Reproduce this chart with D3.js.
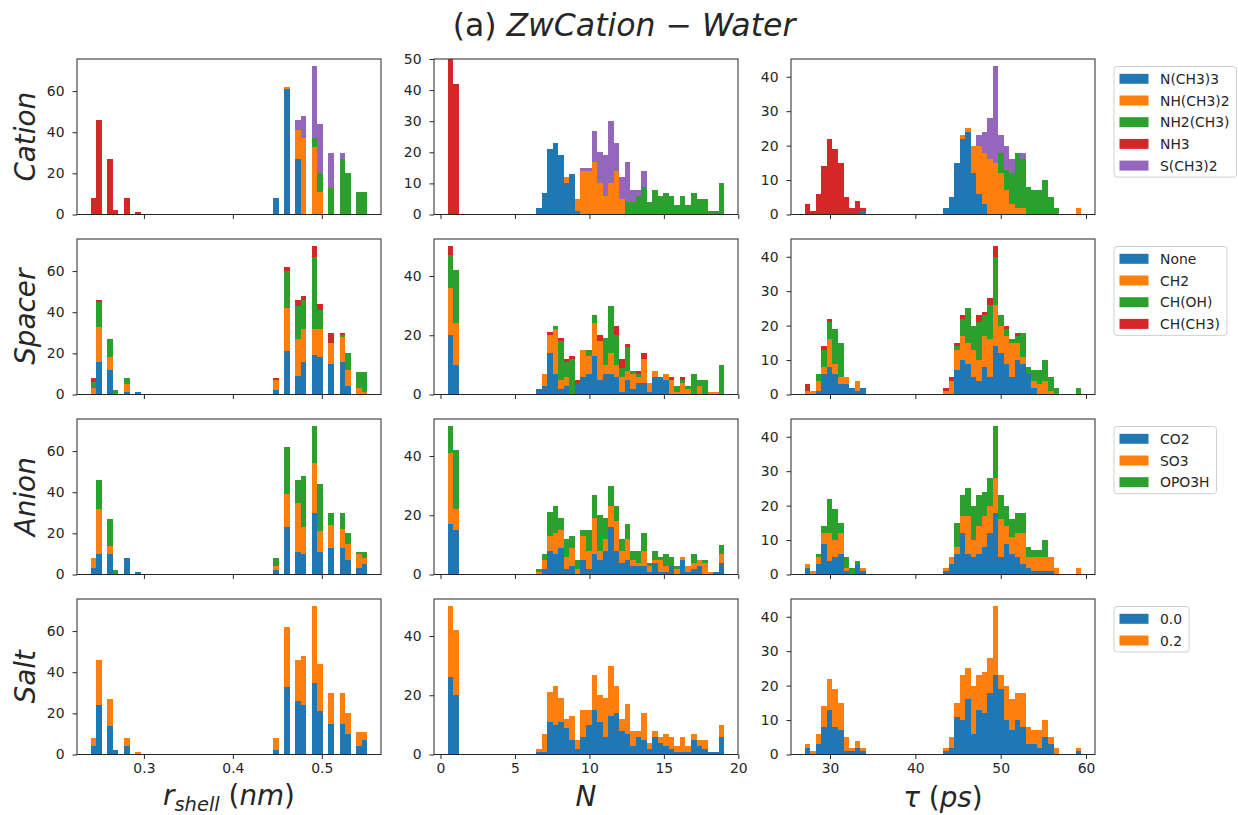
<!DOCTYPE html>
<html lang="en">
<head>
<meta charset="utf-8">
<script src="https://d3js.org/d3.v7.min.js"></script>
<style>
  body { margin: 0; background: #fff; }
  text { font-family: "DejaVu Sans", sans-serif; }
</style>
</head>
<body>
<script>
    var width = 1238;
    var height = 815;
    var colors = ["#1f77b4", "#ff7f0e", "#2ca02c", "#d62728", "#9467bd"];

    // rows of the grid and the groups in each legend
    var rowNames = ["Cation", "Spacer", "Anion", "Salt"];
    var cationGroups = ["N(CH3)3", "NH(CH3)2", "NH2(CH3)", "NH3", "S(CH3)2"];
    var spacerGroups = ["None", "CH2", "CH(OH)", "CH(CH3)"];
    var anionGroups = ["CO2", "SO3", "OPO3H"];
    var saltGroups = ["0.0", "0.2"];

    // data range of each histogram column, 50 bins each
    var binCount = 50;
    var rRange = [0.2403, 0.551];
    var nRange = [0.49, 19.05];
    var tauRange = [27.05, 59.43];

    // indices of the bins that hold any counts
    var rBins = [0,1,3,4,6,8,33,35,37,38,40,41,43,45,46,48,49];
    var nBins = [0,1,16,17,18,19,20,21,22,23,24,25,26,27,28,29,30,31,32,33,34,35,36,37,38,39,40,41,42,43,44,45,46,47,48,49];
    var tauBins = [0,1,2,3,4,5,6,7,8,9,10,25,26,27,28,29,30,31,32,33,34,35,36,37,38,39,40,41,42,43,44,45,49];

    // counts per group (legend order), one value per listed bin
    var cationR = [
        [0,0,0,0,0,0, 8,61,27,0,0,0,0,0,0,0,0],
        [0,0,0,0,0,0, 0,1,14,37,33,11,0,0,0,0,0],
        [0,0,0,0,0,0, 0,0,0,0,4,9,13,27,20,11,11],
        [8,46,27,2,8,1, 0,0,0,0,0,0,0,0,0,0,0],
        [0,0,0,0,0,0, 0,0,5,11,35,24,17,3,0,0,0]
    ];
    var spacerR = [
        [0,16,12,0,1,1, 2,21,9,16,19,18,15,16,4,0,0],
        [3,17,6,0,4,0, 5,21,18,16,13,14,10,12,8,3,1],
        [3,12,9,2,3,0, 0,18,16,14,35,9,0,1,8,8,10],
        [2,1,0,0,0,0, 1,2,3,2,5,3,5,1,0,0,0]
    ];
    var anionR = [
        [3,10,10,0,8,1, 2,23,11,10,30,11,13,13,7,3,5],
        [5,22,4,0,0,0, 2,16,24,13,24,10,11,9,8,7,3],
        [0,14,13,2,0,0, 4,23,11,25,18,23,6,8,5,1,3]
    ];
    var saltR = [
        [4,24,14,2,4,0, 2,33,26,24,35,21,15,15,10,4,7],
        [4,22,13,0,4,1, 6,29,20,24,37,23,15,15,10,7,4]
    ];

    var cationN = [
        [0,0, 2,7,21,23,19,10,13,1, 0,0,0,0,0,0,0,0, 0,0,0,0,0,0,0,0, 0,0,0,0,0,0,0,0,0,0],
        [0,0, 0,0,0,0,0,2,0,4, 14,14,17,10,6,10,14,5, 0,0,0,0,0,0,0,0, 0,0,0,0,0,0,0,0,0,0],
        [0,0, 0,0,0,0,0,0,0,0, 0,0,0,0,0,0,0,0, 4,4,6,9,4,8,6,7, 6,3,6,3,7,5,5,1,1,10],
        [50,42, 0,0,0,0,0,0,0,0, 0,0,0,0,0,0,0,0, 0,0,0,0,0,0,0,0, 0,0,0,0,0,0,0,0,0,0],
        [0,0, 0,0,0,0,0,0,0,0, 1,1,10,10,13,20,9,7, 13,4,2,5,0,0,0,0, 0,0,0,0,0,0,0,0,0,0]
    ];
    var spacerN = [
        [20,10, 2,3,14,7,2,3,0,4, 6,7,13,5,7,7,6,1, 5,2,4,4,1,6,6,5, 0,0,0,0,0,0,0,0,0,0],
        [16,14, 0,4,6,15,3,3,0,0, 9,6,11,13,3,7,4,5, 3,5,2,8,3,2,0,2, 5,1,4,2,0,3,0,1,1,0],
        [11,18, 0,0,0,1,13,5,12,0, 0,2,3,0,9,16,10,3, 8,1,1,0,0,0,0,0, 0,2,1,1,7,2,5,0,0,10],
        [3,0, 0,0,1,0,1,1,1,1, 0,0,0,2,0,0,3,3, 1,0,1,2,0,0,0,0, 1,0,1,0,0,0,0,0,0,0]
    ];
    var anionN = [
        [17,15, 0,2,8,7,9,2,3,0, 5,2,7,5,8,16,8,4, 5,3,3,3,1,4,1,1, 3,0,5,1,2,3,0,0,1,4],
        [24,7, 1,3,5,7,6,4,6,2, 8,6,12,3,4,7,10,4, 7,2,1,5,2,1,4,2, 0,2,1,2,2,2,4,1,0,3],
        [9,20, 1,2,8,9,4,6,4,3, 2,7,8,12,7,7,5,4, 5,3,4,6,1,3,1,4, 3,1,0,0,3,0,1,0,0,3]
    ];
    var saltN = [
        [26,20, 1,1,11,10,11,9,5,2, 6,10,15,11,6,13,14,8, 7,3,6,5,2,6,4,3, 2,1,1,1,5,3,2,1,1,6],
        [24,22, 1,6,10,13,8,3,8,3, 9,5,12,9,13,17,9,4, 10,5,2,9,2,2,2,4, 4,2,5,2,2,2,3,0,0,4]
    ];

    var cationTau = [
        [0,0,0,0,0,0,0,0,0,0,1, 2,5,15,22,24,12,6,3,0,0,0,0,0,0,0,0,0,0,0,0,0, 0],
        [0,0,0,0,0,0,0,0,0,0,0, 0,0,0,1,1,8,14,15,16,15,12,7,3,2,2,0,0,0,0,0,0, 2],
        [0,0,0,0,0,0,0,0,0,0,0, 0,0,0,0,0,0,0,0,0,0,6,6,9,16,14,8,7,7,10,5,2, 0],
        [3,1,6,14,22,19,15,5,2,4,1, 0,0,0,0,0,0,0,0,0,0,0,0,0,0,0,0,0,0,0,0,0, 0],
        [0,0,0,0,0,0,0,0,0,0,0, 0,0,0,0,0,0,3,6,12,28,5,7,4,0,2,0,0,0,0,0,0, 0]
    ];
    var spacerTau = [
        [0,0,1,6,8,6,3,3,2,1,2, 0,0,7,10,9,5,4,8,5,14,12,9,5,10,9,6,2,0,0,0,0, 0],
        [1,1,3,2,8,3,2,2,0,3,0, 1,4,6,7,6,8,6,9,11,12,8,8,10,5,2,0,2,3,4,1,0, 0],
        [0,0,2,5,5,10,10,0,0,0,0, 0,0,1,5,10,7,11,6,10,14,3,2,1,2,7,2,3,4,6,4,2, 2],
        [2,0,0,1,1,0,0,0,0,0,0, 1,1,1,1,0,0,2,1,2,3,0,1,0,1,0,0,0,0,0,0,0, 0]
    ];
    var anionTau = [
        [2,0,3,9,4,5,6,1,0,3,1, 1,3,6,12,6,5,6,8,12,18,5,9,6,5,3,2,1,1,1,1,0, 0],
        [1,1,2,3,8,5,6,1,0,0,1, 1,2,2,5,11,5,8,9,8,10,11,5,5,7,9,3,4,4,4,4,2, 2],
        [0,0,1,2,10,9,3,3,2,1,0, 0,0,7,6,8,10,9,7,8,15,7,6,5,6,6,3,2,2,5,0,0, 0]
    ];
    var saltTau = [
        [2,0,3,8,13,8,7,1,1,2,1, 1,2,11,10,16,6,13,12,18,23,19,10,7,10,8,3,3,2,5,3,0, 1],
        [1,1,3,6,9,11,8,4,1,2,1, 1,3,4,13,9,14,10,12,10,20,4,10,9,8,10,5,4,5,5,2,2, 1]
    ];

    var xTickValues = [[0.3, 0.4, 0.5], [0, 5, 10, 15, 20], [30, 40, 50, 60]];
    var yTickCounts = [4, 3, 5];

    var rowGroups = [cationGroups, spacerGroups, anionGroups, saltGroups];
    var panelCounts = [
        [cationR, cationN, cationTau],
        [spacerR, spacerN, spacerTau],
        [anionR, anionN, anionTau],
        [saltR, saltN, saltTau]
    ];
    var colRanges = [rRange, nRange, tauRange];
    var colBins = [rBins, nBins, tauBins];

    // layout
    var colLeft = [77, 434, 791];
    var rowTop = [59, 239, 419, 599];
    var panelW = 304, panelH = 155.5;
    var tickLen = 4.5;
    var tickFont = 13.9, labelFont = 27.8;
    var ink = "#262626";

    var svg = d3.select("body").append("svg")
        .attr("width", width)
        .attr("height", height);

    svg.append("rect")
        .attr("width", width).attr("height", height)
        .attr("fill", "white");

    var defs = svg.append("defs");

    // title: "(a) " upright, the rest set as math italic
    var title = svg.append("text")
        .attr("x", 624).attr("y", 36)
        .attr("text-anchor", "middle")
        .attr("font-size", 31.5)
        .attr("fill", ink);
    title.append("tspan").text("(a) ");
    title.append("tspan").attr("font-style", "italic").text("ZwCation");
    title.append("tspan").text(" \u2212 ");
    title.append("tspan").attr("font-style", "italic").text("Water");

    function drawPanel(row, col) {
        var counts = panelCounts[row][col];
        var bins = colBins[col];
        var range = colRanges[col];
        var pad = (range[1] - range[0]) * 0.05;
        var bw = (range[1] - range[0]) / binCount;

        var g = svg.append("g")
            .attr("transform", "translate(" + colLeft[col] + "," + rowTop[row] + ")");

        var x = d3.scaleLinear()
            .domain([range[0] - pad, range[1] + pad])
            .range([0, panelW]);

        // one record per bin, keyed by group index, then stacked
        var records = bins.map(function (b, k) {
            var rec = { bin: b };
            counts.forEach(function (series, s) { rec[s] = series[k]; });
            return rec;
        });
        var keys = d3.range(counts.length);
        var stacked = d3.stack().keys(keys)(records);

        var maxTotal = d3.max(records, function (r) { return d3.sum(keys, function (k) { return r[k]; }); });
        var yTop = maxTotal * 1.05;
        var yTicks = yTickCounts[col];
        if (row === 0 && col === 1) { yTop = 50; yTicks = 5; }

        var y = d3.scaleLinear().domain([0, yTop]).range([panelH, 0]);

        var clipId = "clip-" + row + "-" + col;
        defs.append("clipPath").attr("id", clipId)
            .append("rect").attr("width", panelW).attr("height", panelH);

        var plot = g.append("g").attr("clip-path", "url(#" + clipId + ")");

        plot.selectAll("g.layer")
            .data(stacked)
            .enter().append("g")
            .attr("class", "layer")
            .attr("fill", function (d, i) { return colors[i]; })
            .selectAll("rect")
            .data(function (d) { return d.filter(function (p) { return p[1] > p[0]; }); })
            .enter().append("rect")
            .attr("shape-rendering", "crispEdges")
            .attr("x", function (d) { return x(range[0] + d.data.bin * bw); })
            .attr("width", function (d) { return x(range[0] + (d.data.bin + 1) * bw) - x(range[0] + d.data.bin * bw); })
            .attr("y", function (d) { return y(d[1]); })
            .attr("height", function (d) { return y(d[0]) - y(d[1]); });

        // frame
        g.append("rect")
            .attr("width", panelW).attr("height", panelH)
            .attr("fill", "none")
            .attr("stroke", ink)
            .attr("stroke-width", 1);

        // x ticks on every row, labels on the bottom row only
        var xAxis = d3.axisBottom(x)
            .tickValues(xTickValues[col])
            .tickSize(tickLen)
            .tickPadding(4)
            .tickFormat(row === 3 ? d3.format("") : function () { return ""; });
        var xg = g.append("g")
            .attr("transform", "translate(0," + panelH + ")")
            .call(xAxis);

        var yAxis = d3.axisLeft(y)
            .ticks(yTicks)
            .tickSize(tickLen)
            .tickPadding(8)
            .tickFormat(d3.format("d"));
        var yg = g.append("g").call(yAxis);

        [xg, yg].forEach(function (a) {
            a.select(".domain").remove();
            a.selectAll(".tick line").attr("stroke", ink).attr("stroke-width", 1);
            a.selectAll(".tick text")
                .attr("fill", ink)
                .attr("font-size", tickFont)
                .attr("font-family", "DejaVu Sans");
        });
    }

    function drawLegend(row) {
        var groups = rowGroups[row];
        var left = 1114, top = rowTop[row] + 7.5;
        var first = 12.3, step = 21.7;
        var lg = svg.append("g").attr("transform", "translate(" + left + "," + top + ")");

        var frame = lg.append("rect")
            .attr("rx", 3).attr("ry", 3)
            .attr("fill", "white")
            .attr("stroke", "#d0d0d0")
            .attr("stroke-width", 1);

        var maxW = 0;
        groups.forEach(function (name, i) {
            var cy = first + i * step;
            lg.append("rect")
                .attr("x", 5.5).attr("y", cy - 5)
                .attr("width", 29).attr("height", 10)
                .attr("fill", colors[i]);
            var t = lg.append("text")
                .attr("x", 46).attr("y", cy + 5)
                .attr("font-size", tickFont)
                .attr("fill", ink)
                .text(name);
            maxW = Math.max(maxW, t.node().getComputedTextLength());
        });

        frame.attr("width", 46 + maxW + 7)
            .attr("height", first + (groups.length - 1) * step + 11.5);
    }

    for (var r = 0; r < 4; r++) {
        for (var c = 0; c < 3; c++) drawPanel(r, c);
        drawLegend(r);

        svg.append("text")
            .attr("transform", "translate(35," + (rowTop[r] + panelH / 2) + ") rotate(-90)")
            .attr("text-anchor", "middle")
            .attr("font-size", labelFont)
            .attr("font-style", "italic")
            .attr("fill", ink)
            .text(rowNames[r]);
    }

    // column axis labels
    var rLabel = svg.append("text")
        .attr("x", colLeft[0] + panelW / 2).attr("y", 805)
        .attr("text-anchor", "middle")
        .attr("font-size", labelFont)
        .attr("fill", ink);
    rLabel.append("tspan").attr("font-style", "italic").text("r");
    rLabel.append("tspan").attr("font-style", "italic").attr("font-size", labelFont * 0.7).attr("dy", 6).text("shell");
    rLabel.append("tspan").attr("dy", -6).text(" (");
    rLabel.append("tspan").attr("font-style", "italic").text("nm");
    rLabel.append("tspan").text(")");

    svg.append("text")
        .attr("x", colLeft[1] + panelW / 2).attr("y", 806)
        .attr("text-anchor", "middle")
        .attr("font-size", labelFont)
        .attr("font-style", "italic")
        .attr("fill", ink)
        .text("N");

    var tauLabel = svg.append("text")
        .attr("x", colLeft[2] + panelW / 2).attr("y", 807)
        .attr("text-anchor", "middle")
        .attr("font-size", labelFont)
        .attr("fill", ink);
    tauLabel.append("tspan").attr("font-style", "italic").text("\u03c4");
    tauLabel.append("tspan").text(" (");
    tauLabel.append("tspan").attr("font-style", "italic").text("ps");
    tauLabel.append("tspan").text(")");
</script>
</body>
</html>
